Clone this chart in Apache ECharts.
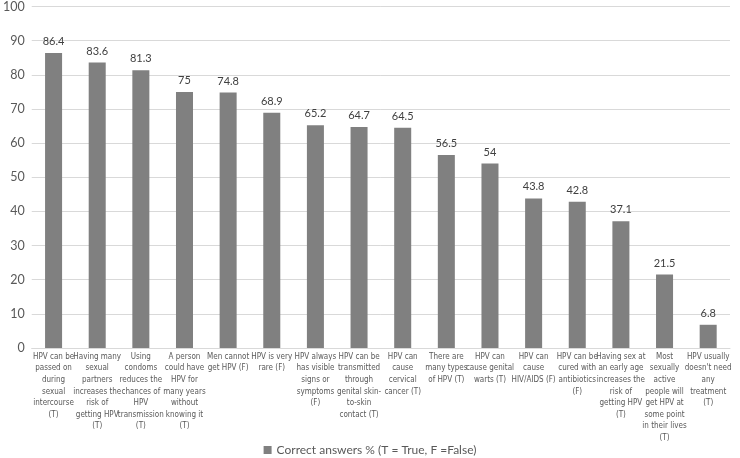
<!DOCTYPE html>
<html><head><meta charset="utf-8">
<script src="https://cdn.jsdelivr.net/npm/echarts@6/dist/echarts.min.js"></script>
<style>html,body{margin:0;padding:0;background:#fff}#c{width:740px;height:458px}</style>
</head><body><div id="c"></div>
<script>
const categories = [
 "HPV can be\npassed on\nduring\nsexual\nintercourse\n(T)",
 "Having many\nsexual\npartners\nincreases the\nrisk of\ngetting HPV\n(T)",
 "Using\ncondoms\nreduces the\nchances of\nHPV\ntransmission\n(T)",
 "A person\ncould have\nHPV for\nmany years\nwithout\nknowing it\n(T)",
 "Men cannot\nget HPV (F)",
 "HPV is very\nrare (F)",
 "HPV always\nhas visible\nsigns or\nsymptoms\n(F)",
 "HPV can be\ntransmitted\nthrough\ngenital skin-\nto-skin\ncontact (T)",
 "HPV can\ncause\ncervical\ncancer (T)",
 "There are\nmany types\nof HPV (T)",
 "HPV can\ncause genital\nwarts (T)",
 "HPV can\ncause\nHIV/AIDS (F)",
 "HPV can be\ncured with\nantibiotics\n(F)",
 "Having sex at\nan early age\nincreases the\nrisk of\ngetting HPV\n(T)",
 "Most\nsexually\nactive\npeople will\nget HPV at\nsome point\nin their lives\n(T)",
 "HPV usually\ndoesn't need\nany\ntreatment\n(T)"
];
const values = [86.4, 83.6, 81.3, 75, 74.8, 68.9, 65.2, 64.7, 64.5, 56.5, 54, 43.8, 42.8, 37.1, 21.5, 6.8];
const seriesName = "Correct answers % (T = True, F =False)";
const chart = echarts.init(document.getElementById('c'), null, {renderer:'canvas'});
chart.setOption({
  animation:false,
  textStyle:{fontFamily:'"DejaVu Sans Condensed", Lato, sans-serif'},
  grid:{left:29, right:10, top:4, bottom:110},
  legend:{top:444, left:'center', padding:0, itemWidth:8, itemHeight:8, icon:'rect', itemGap:4,
    textStyle:{color:'#595959', fontSize:12, fontFamily:'Lato, sans-serif'}, data:[seriesName]},
  xAxis:{type:'category', data:categories,
    axisLine:{lineStyle:{color:'#d9d9d9'}}, axisTick:{show:false},
    axisLabel:{interval:0, color:'#595959', fontSize:8, lineHeight:11.6, margin:3,
      overflow:'none', hideOverlap:false}},
  yAxis:{type:'value', min:0, max:100, interval:10,
    axisLine:{show:false}, axisTick:{show:false},
    splitLine:{lineStyle:{color:'#d9d9d9'}},
    axisLabel:{color:'#595959', fontSize:12.5, margin:7, fontFamily:'Lato, sans-serif'}},
  series:[{name:seriesName, type:'bar', data:values, barWidth:'39%',
    itemStyle:{color:'#808080'},
    label:{show:true, position:'top', color:'#404040', fontSize:11, distance:6, fontFamily:'Lato, sans-serif'}}]
});
</script></body></html>
